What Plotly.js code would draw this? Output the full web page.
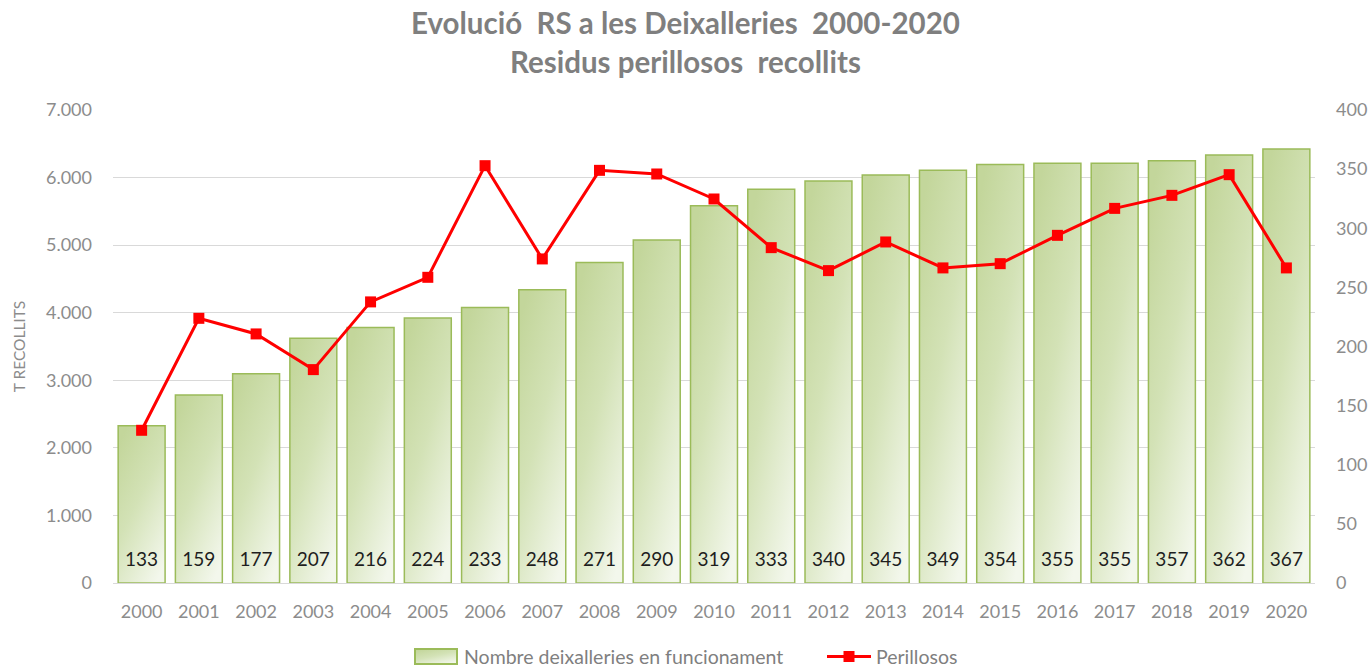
<!DOCTYPE html>
<html>
<head>
<meta charset="utf-8">
<script src="https://cdn.plot.ly/plotly-3.0.1.min.js"></script>
<style>
  html, body { margin: 0; padding: 0; background: #ffffff; }
  #chart { width: 1370px; height: 667px; }
</style>
</head>
<body>
<div id="chart"></div>
<script>
const years = ['2000','2001','2002','2003','2004','2005','2006','2007','2008','2009','2010',
               '2011','2012','2013','2014','2015','2016','2017','2018','2019','2020'];
const deixalleries = [133,159,177,207,216,224,233,248,271,290,319,333,340,345,349,354,355,355,357,362,367];
const perillosos = [2260,3917,3686,3158,4160,4524,6176,4796,6107,6053,5683,
                    4963,4623,5047,4663,4726,5145,5544,5737,6043,4663];
const leftTicks = [0,1000,2000,3000,4000,5000,6000,7000];
const rightTicks = [0,50,100,150,200,250,300,350,400];

const FONT = 'Lato, "Open Sans", sans-serif';
const GREY = '#7f7f7f';
const TICKGREY = '#8c8c8c';
const LABEL_LEVEL = 18.6; // bar-axis level where the count labels sit

const traces = [
  {
    type: 'bar',
    name: 'Nombre deixalleries en funcionament',
    x: years,
    y: deixalleries,
    yaxis: 'y',
    marker: { color: '#d2e1b3', line: { color: '#9bbb59', width: 1.5 } },
    hoverinfo: 'x+y'
  },
  {
    type: 'scatter',
    mode: 'text',
    x: years,
    y: years.map(() => LABEL_LEVEL),
    text: deixalleries.map(String),
    textposition: 'middle center',
    textfont: { family: FONT, size: 19, color: '#1e1e1e' },
    yaxis: 'y',
    showlegend: false,
    hoverinfo: 'skip'
  },
  {
    type: 'scatter',
    mode: 'lines+markers',
    name: 'Perillosos',
    x: years,
    y: perillosos,
    yaxis: 'y2',
    line: { color: '#ff0000', width: 3 },
    marker: { color: '#ff0000', symbol: 'square', size: 11 }
  }
];

const layout = {
  width: 1370,
  height: 667,
  paper_bgcolor: '#ffffff',
  plot_bgcolor: '#ffffff',
  separators: ',.',
  font: { family: FONT, color: GREY, size: 18 },
  margin: { l: 113, r: 55, t: 110, b: 84, autoexpand: false },
  bargap: 0.18,
  showlegend: true,
  legend: {
    orientation: 'h',
    x: (410 - 113) / 1202, xanchor: 'left',
    y: -0.156, yanchor: 'middle',
    font: { family: FONT, size: 19.5, color: GREY },
    itemwidth: 44,
    entrywidth: 353,
    entrywidthmode: 'pixels',
    traceorder: 'normal'
  },
  xaxis: {
    type: 'category',
    automargin: false,
    range: [-0.5, years.length - 0.5],
    tickvals: years,
    ticktext: years,
    showgrid: false,
    showline: true,
    linecolor: '#d9d9d9',
    linewidth: 1,
    ticks: '',
    ticklabelstandoff: 12,
    tickfont: { family: FONT, size: 18, color: TICKGREY }
  },
  yaxis: {
    side: 'right',
    automargin: false,
    range: [0, 400],
    tickvals: rightTicks,
    showgrid: false,
    zeroline: false,
    showline: false,
    ticks: '',
    ticklabelstandoff: 20,
    tickfont: { family: FONT, size: 18, color: TICKGREY }
  },
  yaxis2: {
    overlaying: 'y',
    side: 'left',
    automargin: false,
    range: [0, 7000],
    tickvals: leftTicks,
    tickformat: ',d',
    showgrid: true,
    gridcolor: '#d9d9d9',
    gridwidth: 1,
    zeroline: false,
    showline: false,
    ticks: '',
    ticklabelstandoff: 20,
    tickfont: { family: FONT, size: 18, color: TICKGREY },
    title: { text: 'T RECOLLITS', font: { family: FONT, size: 15.5, color: TICKGREY }, standoff: 16 }
  },
  annotations: [
    {
      text: '<b>Evolució  RS a les Deixalleries  2000-2020</b>',
      xref: 'paper', yref: 'paper', x: 0.476, y: 1.186,
      xanchor: 'center', yanchor: 'middle', showarrow: false,
      font: { family: FONT, size: 29.5, color: GREY }
    },
    {
      text: '<b>Residus perillosos  recollits</b>',
      xref: 'paper', yref: 'paper', x: 0.476, y: 1.1015,
      xanchor: 'center', yanchor: 'middle', showarrow: false,
      font: { family: FONT, size: 29.5, color: GREY }
    }
  ]
};

function addGradient(gd) {
  const NS = 'http://www.w3.org/2000/svg';
  if (!document.getElementById('barGrad')) {
    const svg = gd.querySelector('svg.main-svg');
    let defs = svg.querySelector('defs');
    if (!defs) { defs = document.createElementNS(NS, 'defs'); svg.insertBefore(defs, svg.firstChild); }
    const grad = document.createElementNS(NS, 'linearGradient');
    grad.setAttribute('id', 'barGrad');
    grad.setAttribute('x1', '0.2'); grad.setAttribute('y1', '0');
    grad.setAttribute('x2', '0.8'); grad.setAttribute('y2', '1');
    [['0', '#c3d69b'], ['0.45', '#d3e2b6'], ['1', '#f3f7ec']].forEach(([o, c]) => {
      const s = document.createElementNS(NS, 'stop');
      s.setAttribute('offset', o); s.setAttribute('stop-color', c);
      grad.appendChild(s);
    });
    defs.appendChild(grad);
  }
  gd.querySelectorAll('.barlayer .point path').forEach(p => { p.style.fill = 'url(#barGrad)'; });
  // widen the bar legend swatch into a rectangle like the original
  gd.querySelectorAll('g.legendpoints path.legendundefined').forEach(p => {
    p.setAttribute('d', 'M-22,-7.5H20V7.5H-22Z');
    p.style.fill = 'url(#barGrad)';
    p.style.stroke = '#9bbb59';
    p.style.strokeWidth = '2px';
  });
}

Plotly.newPlot('chart', traces, layout, { displayModeBar: false, staticPlot: true }).then(gd => {
  addGradient(gd);
  gd.on('plotly_afterplot', () => addGradient(gd));
});
</script>
</body>
</html>
